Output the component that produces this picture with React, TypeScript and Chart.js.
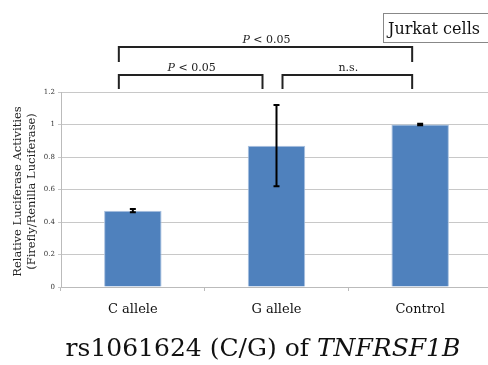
import React, { useEffect, useRef } from "react";
import { Chart, registerables } from "chart.js";

Chart.register(...registerables);

const categories = ["C allele", "G allele", "Control"];
const values = [0.47, 0.87, 1.0];
const errors = [0.01, 0.25, 0.004];
const yTickValues = [0, 0.2, 0.4, 0.6, 0.8, 1, 1.2];
const yTickLabels = ["0", "0.2", "0.4", "0.6", "0.8", "1", "1.2"];
const yTitleLines = ["Relative Luciferase Activities", "(Firefly/Renilla Luciferase)"];
const titleNormal = "rs1061624 (C/G) of ";
const titleItalic = "TNFRSF1B";
const cellLabel = "Jurkat cells";
// comparisons: [fromIndex, toIndex, level(0 = top), label]
const comparisons: [number, number, number, string][] = [
  [0, 2, 0, "P"],
  [0, 1, 1, "P"],
  [1, 2, 1, "n.s."],
];

const SERIF = "'DejaVu Serif', serif";

function drawSegments(ctx: CanvasRenderingContext2D, segs: { t: string; italic?: boolean }[], cx: number, y: number, size: number) {
  let total = 0;
  const widths = segs.map((s) => {
    ctx.font = `${s.italic ? "italic " : ""}${size}px ${SERIF}`;
    const w = ctx.measureText(s.t).width;
    total += w;
    return w;
  });
  let x = cx - total / 2;
  ctx.textAlign = "left";
  segs.forEach((s, i) => {
    ctx.font = `${s.italic ? "italic " : ""}${size}px ${SERIF}`;
    ctx.fillText(s.t, x, y);
    x += widths[i];
  });
}

const overlayPlugin = {
  id: "overlay",
  afterDatasetsDraw(chart: any) {
    const ctx: CanvasRenderingContext2D = chart.ctx;
    const xs = chart.scales.x;
    const ys = chart.scales.y;
    ctx.save();
    ctx.strokeStyle = "#000";
    ctx.lineWidth = 2;
    values.forEach((v, i) => {
      const x = xs.getPixelForValue(i);
      const yt = ys.getPixelForValue(v + errors[i]);
      const yb = ys.getPixelForValue(v - errors[i]);
      ctx.beginPath();
      ctx.moveTo(x, yt);
      ctx.lineTo(x, yb);
      ctx.moveTo(x - 3, yt);
      ctx.lineTo(x + 3, yt);
      ctx.moveTo(x - 3, yb);
      ctx.lineTo(x + 3, yb);
      ctx.stroke();
    });
    ctx.restore();
  },
  afterDraw(chart: any) {
    const ctx: CanvasRenderingContext2D = chart.ctx;
    const xs = chart.scales.x;
    const area = chart.chartArea;
    ctx.save();
    // y axis title
    ctx.fillStyle = "#222";
    ctx.font = `11.5px ${SERIF}`;
    ctx.textAlign = "center";
    ctx.textBaseline = "middle";
    const cy = (area.top + area.bottom) / 2 + 2;
    yTitleLines.forEach((line, i) => {
      ctx.save();
      ctx.translate(18 + i * 14, cy);
      ctx.rotate(-Math.PI / 2);
      ctx.fillText(line, 0, 0);
      ctx.restore();
    });

    // brackets
    ctx.strokeStyle = "#222";
    ctx.lineWidth = 2;
    ctx.fillStyle = "#222";
    ctx.textBaseline = "alphabetic";
    const levelY = [47, 75];
    const levelBottom = [62, 89];
    comparisons.forEach(([a, b, lvl, label]) => {
      const x1 = xs.getPixelForValue(a) - (a === 0 ? 14 : -6);
      const x2 = xs.getPixelForValue(b) - (b === 2 ? 8 : 14);
      const y = levelY[lvl];
      ctx.beginPath();
      ctx.moveTo(x1, levelBottom[lvl]);
      ctx.lineTo(x1, y);
      ctx.lineTo(x2, y);
      ctx.lineTo(x2, levelBottom[lvl]);
      ctx.stroke();
      const cx = (x1 + x2) / 2 + 1;
      if (label === "P") {
        drawSegments(ctx, [{ t: "P", italic: true }, { t: " < 0.05" }], cx, y - 4, 11);
      } else {
        drawSegments(ctx, [{ t: label }], cx, y - 4, 11);
      }
    });

    // Jurkat cells box
    ctx.fillStyle = "#fff";
    ctx.fillRect(383, 13, 120, 30);
    ctx.strokeStyle = "#888";
    ctx.lineWidth = 1;
    ctx.strokeRect(383.5, 13.5, 120, 29);
    ctx.fillStyle = "#111";
    ctx.font = `16px ${SERIF}`;
    ctx.textAlign = "left";
    ctx.fillText(cellLabel, 388, 34);

    // bottom title
    ctx.fillStyle = "#111";
    drawSegments(ctx, [{ t: titleNormal }, { t: titleItalic, italic: true }], 263, 356, 25);
    ctx.restore();
  },
};

export default function App() {
  const ref = useRef<HTMLCanvasElement | null>(null);
  useEffect(() => {
    if (!ref.current) return;
    const chart = new Chart(ref.current, {
      type: "bar",
      data: {
        labels: categories,
        datasets: [
          {
            data: values,
            backgroundColor: "#4F81BD",
            borderColor: "#A9C1DF",
            borderWidth: 1,
            barPercentage: 0.4,
            categoryPercentage: 1,
          },
        ],
      },
      options: {
        animation: false,
        responsive: false,
        layout: { padding: { left: 0, top: 92, right: 8, bottom: 0 } },
        plugins: { legend: { display: false }, tooltip: { enabled: false }, title: { display: false } },
        scales: {
          x: {
            grid: { drawOnChartArea: false, tickLength: 4, color: "#bbb", offset: true },
            border: { color: "#bbb" },
            ticks: { font: { family: SERIF, size: 13 }, color: "#111", padding: 11 },
            afterFit: (s: any) => {
              s.height = 365 - 287;
            },
          },
          y: {
            min: 0,
            max: 1.2,
            afterBuildTicks: (s: any) => {
              s.ticks = yTickValues.map((v) => ({ value: v }));
            },
            ticks: {
              font: { family: SERIF, size: 7 },
              color: "#333",
              padding: 3,
              callback: (_v: any, i: number) => yTickLabels[i],
            },
            grid: { color: "#c8c8c8", tickLength: 3 },
            border: { color: "#bbb" },
            afterFit: (s: any) => {
              s.width = 61;
            },
          },
        },
      },
      plugins: [overlayPlugin],
    });
    return () => chart.destroy();
  }, []);
  return (
    <div style={{ position: "fixed", left: 0, top: 0, width: 488, height: 365, overflow: "hidden", background: "#fff" }}>
      <canvas ref={ref} width={500} height={365} style={{ display: "block" }} />
    </div>
  );
}
